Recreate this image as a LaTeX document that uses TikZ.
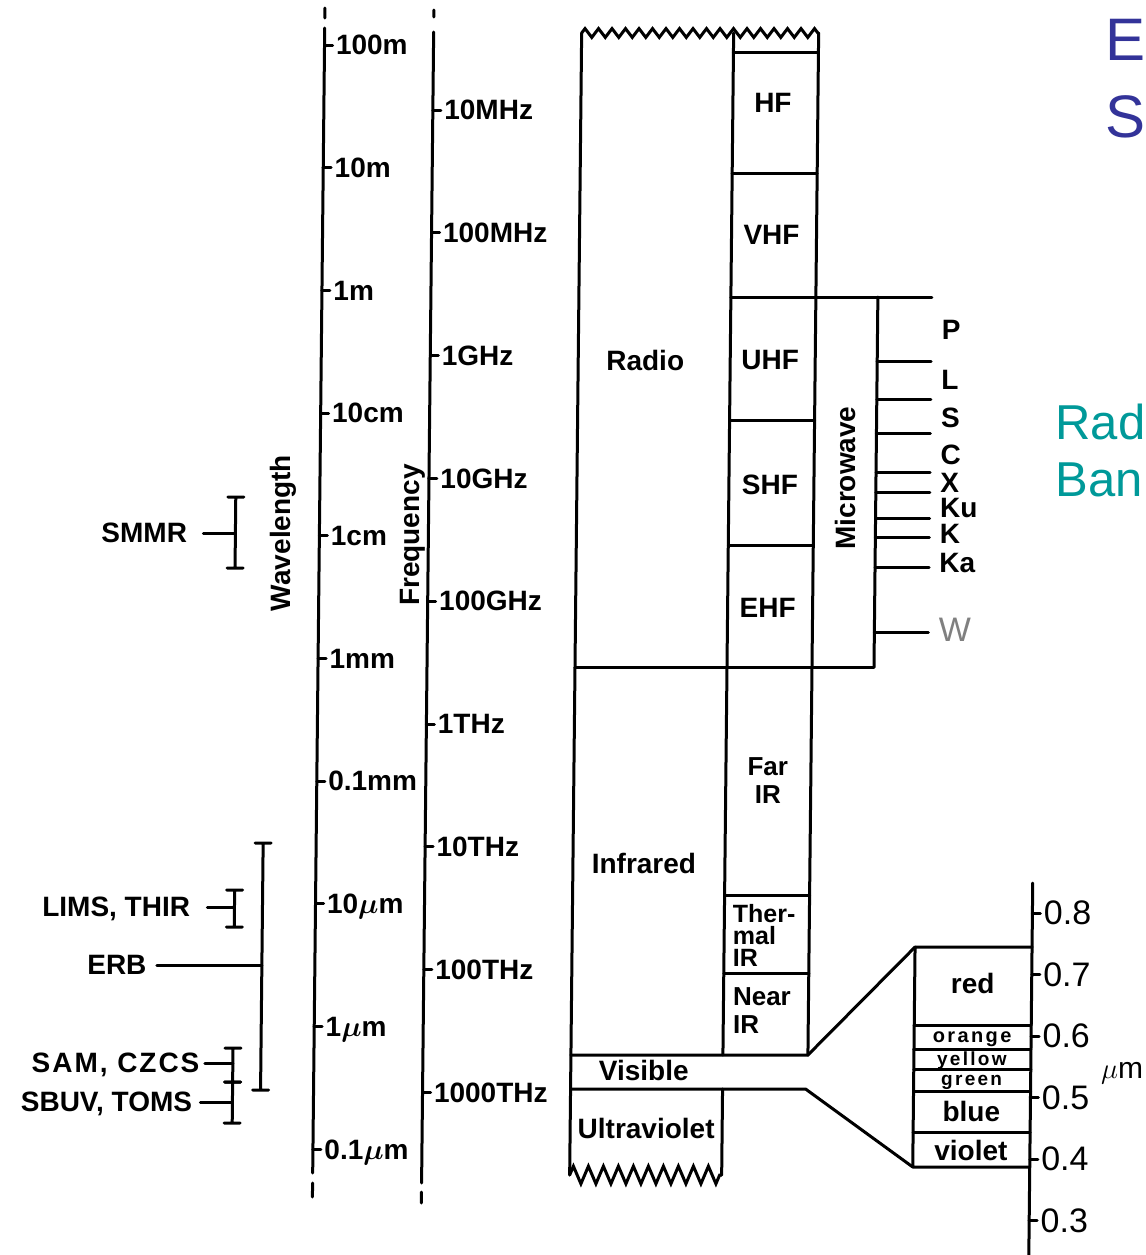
\documentclass[tikz,border=0pt]{standalone}
\usepackage{fontspec}
\setmainfont{Liberation Sans}
\usetikzlibrary{positioning, calc, decorations.pathmorphing}
\definecolor{slideblue}{RGB}{51,51,153}
\definecolor{slideteal}{RGB}{0,153,153}
\tikzset{
  edge/.style={line width=1.5pt, line cap=round},
  lbl/.style={inner sep=1pt, text depth=0pt, font=\bfseries\boldmath\fontsize{14}{14}\selectfont},
  ticklbl/.style={lbl, anchor=west},
  scalelbl/.style={inner sep=1pt, text depth=0pt, anchor=west, font=\fontsize{17}{17}\selectfont},
  tinylbl/.style={lbl, font=\bfseries\fontsize{10}{10}\selectfont\addfontfeature{LetterSpace=12}},
  zigtop/.style={decorate, decoration={zigzag, segment length=6.75pt, amplitude=2.2pt}},
  zigbot/.style={decorate, decoration={zigzag, segment length=7.5pt, amplitude=4.4pt}}
}
% I-shaped range bar: x, top, bottom
\newcommand\ibar[3]{\draw[edge] (#1,#2) -- (#1,#3) (#1-8,#2) -- (#1+8,#2) (#1-8,#3) -- (#1+8,#3);}
\begin{document}
\begin{tikzpicture}[x=0.5pt, y=-0.5pt]
\useasboundingbox (0,0) rectangle (1146,1255);
\fill[white] (0,0) rectangle (1146,1255);
\begin{scope}[xslant=0.0105]
% wavelength and frequency scales
\draw[edge] (325,8) -- (325,18) (325,28) -- (325,1173) (325,1183) -- (325,1197);
\draw[edge] (434,10) -- (434,17) (434,32) -- (434,1183) (434,1192) -- (434,1203);
\foreach \lab [count=\i from 0] in {100m,10m,1m,10cm,1cm,1mm,0.1mm,10$\mu$m,1$\mu$m,0.1$\mu$m}
  \draw[edge] (325,{45+122.7*\i}) -- ++(8,0) node[ticklbl] (wl\i) {\lab};
\foreach \lab [count=\i from 0] in {10MHz,100MHz,1GHz,10GHz,100GHz,1THz,10THz,100THz,1000THz}
  \draw[edge] (434,{110+122.8*\i}) -- ++(8,0) node[ticklbl] (fq\i) {\lab};
\node[lbl, rotate=90] (wavelen) at (286,533) {Wavelength};
\node[lbl, rotate=90] (freq) at (415,535) {Frequency};

% spectrum column
\draw[edge, zigtop] (582,33) -- (819,33);
\draw[edge] (582,33) -- (582,1175);
\draw[edge] (734,33) -- (734,1055) (734,1089) -- (734,1175);
\draw[edge] (819,33) -- (819,1055);
\draw[edge, zigbot] (582,1175) -- (734,1175);
\foreach \y in {52,173,420,545,895,973}
  \draw[edge] (734,\y) -- (819,\y);
\draw[edge] (734,297) -- (935,297);
\draw[edge] (582,667) -- (881,667);
\draw[edge] (881,297) -- (881,667);
\node[lbl] (radio) at (649,360) {Radio};
\node[lbl] (infra) at (653,863) {Infrared};
\node[lbl] (visible) at (655,1070) {Visible};
\node[lbl] (uv) at (658,1128) {Ultraviolet};
\node[lbl] (hf) at (774,103) {HF};
\node[lbl] (vhf) at (774,235) {VHF};
\node[lbl] (uhf) at (774,360) {UHF};
\node[lbl] (shf) at (775,485) {SHF};
\node[lbl] (ehf) at (774,608) {EHF};
\node[lbl, align=center, font=\bfseries\fontsize{13}{14}\selectfont] (farir) at (776,781) {Far\\IR};
\node[lbl, align=left, anchor=north west, font=\bfseries\fontsize{12.5}{11}\selectfont] (thermir) at (740,902) {Ther-\\mal\\IR};
\node[lbl, align=left, anchor=north west, font=\bfseries\fontsize{13}{14}\selectfont] (nearir) at (741,985) {Near\\IR};

% microwave bands
\node[lbl, rotate=90] (micro) at (850,478) {Microwave};
\foreach \y in {361,399,433,472,492,518,537,567,632}
  \draw[edge] (881,\y) -- (935,\y);
\foreach \lab/\y in {P/330,L/380,S/418,C/455,X/483,Ku/508,K/534,Ka/563}
  \node[lbl, anchor=west] (mw-\lab) at (943,\y) {\lab};
\node[scalelbl, text=gray] (mw-W) at (943,630) {W};

% visible detail
\coordinate (vistop) at (925,947);
\coordinate (visbot) at (925,1167);
\draw[edge] (582,1055) -- (819,1055) -- (vistop);
\draw[edge] (582,1089) -- (817,1089) -- (visbot);
\draw[edge] (vistop) -- (1042,947) (visbot) -- (1042,1167) (vistop) -- (visbot);
\foreach \y in {1025,1049,1069,1091,1132}
  \draw[edge] (925,\y) -- (1042,\y);
\draw[edge] (1042,883) -- (1042,1262);
\foreach \lab [count=\i from 0] in {0.8,0.7,0.6,0.5,0.4,0.3}
  \draw[edge] (1042,{913+61.5*\i}) -- ++(8,0) node[scalelbl] (um\i) {\lab};
\node[scalelbl, font=\fontsize{15}{15}\selectfont] (umunit) at (1110,1070) {$\mu$m};
\node[lbl] (vred) at (983,983) {red};
\node[tinylbl] (vorange) at (983,1037) {orange};
\node[tinylbl, font=\bfseries\fontsize{9.5}{9.5}\selectfont\addfontfeature{LetterSpace=12}] (vyellow) at (983,1059) {yellow};
\node[tinylbl, font=\bfseries\fontsize{9.5}{9.5}\selectfont\addfontfeature{LetterSpace=12}] (vgreen) at (983,1080) {green};
\node[lbl] (vblue) at (983,1111) {blue};
\node[lbl] (vviolet) at (983,1150) {violet};

% instruments
\node[lbl, anchor=east] (smmr) at (195,533) {SMMR};
\coordinate (smmrbar) at (241,533);
\ibar{241}{497}{568}
\draw[edge, shorten <=7pt] (smmr.east) -- (smmrbar);
\ibar{272}{843}{1090}
\node[lbl, anchor=east] (lims) at (202,907) {LIMS, THIR};
\coordinate (limsbar) at (244,907);
\ibar{244}{890}{927}
\draw[edge, shorten <=7.5pt] (lims.east) -- (limsbar);
\node[lbl, anchor=east] (erb) at (159,965) {ERB};
\coordinate (erbbar) at (272,965);
\draw[edge, shorten <=4pt] (erb.east) -- (erbbar);
\node[lbl, anchor=east, font=\bfseries\fontsize{14}{14}\selectfont\addfontfeature{LetterSpace=7}] (sam) at (213,1063) {SAM, CZCS};
\coordinate (sambar) at (244,1063);
\node[lbl, anchor=east] (sbuv) at (206,1102) {SBUV, TOMS};
\coordinate (sbuvbar) at (244,1102);
\ibar{244}{1048}{1082}
\ibar{244}{1082}{1123}
\draw[edge, shorten <=1.5pt] (sam.east) -- (sambar);
\draw[edge, shorten <=3pt] (sbuv.east) -- (sbuvbar);
\end{scope}

% slide overlay text
\node[anchor=west, inner sep=0pt, text depth=0pt, text=slideblue, font=\fontsize{30}{30}\selectfont] (ttlE) at (1105,40) {E};
\node[anchor=west, inner sep=0pt, text depth=0pt, text=slideblue, font=\fontsize{30}{30}\selectfont] (ttlS) at (1105,117) {S};
\node[anchor=west, inner sep=0pt, text depth=0pt, text=slideteal, font=\fontsize{24.5}{24.5}\selectfont] (radtxt) at (1055,422) {Rad};
\node[anchor=west, inner sep=0pt, text depth=0pt, text=slideteal, font=\fontsize{24.5}{24.5}\selectfont] (bantxt) at (1055,480) {Ban};
\end{tikzpicture}
\end{document}
